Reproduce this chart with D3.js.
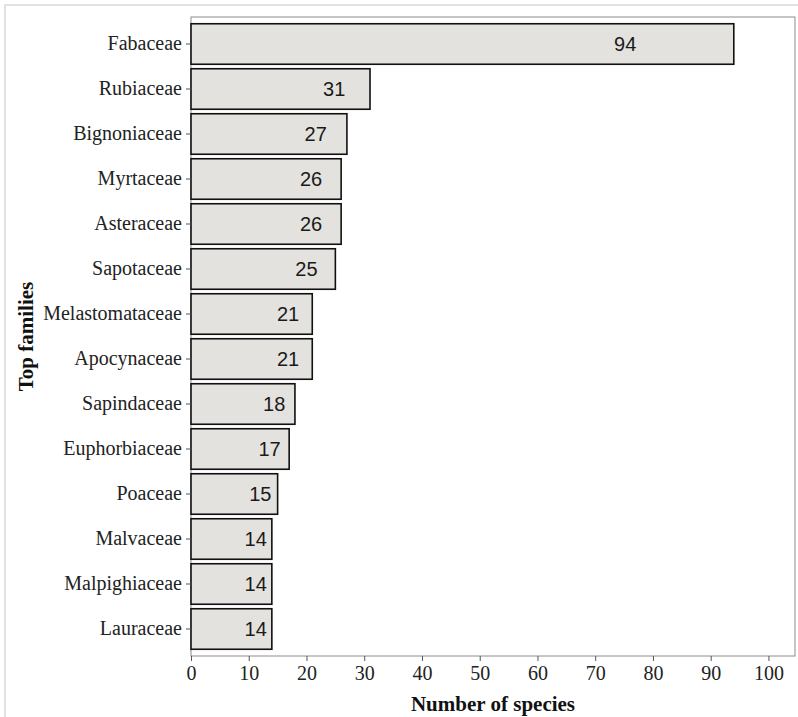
<!DOCTYPE html>
<html>
<head>
<meta charset="utf-8">
<script src="https://cdn.jsdelivr.net/npm/d3@7"></script>
<style>
  body { margin: 0; background: #fff; }
  .tick text { font-family: "Liberation Serif", "Times New Roman", serif; }
</style>
</head>
<body>
<div id="chart"></div>
<script>
// data
const families = ["Fabaceae", "Rubiaceae", "Bignoniaceae", "Myrtaceae", "Asteraceae", "Sapotaceae",
  "Melastomataceae", "Apocynaceae", "Sapindaceae", "Euphorbiaceae", "Poaceae", "Malvaceae",
  "Malpighiaceae", "Lauraceae"];
const species = [94, 31, 27, 26, 26, 25, 21, 21, 18, 17, 15, 14, 14, 14];
const xTicks = [0, 10, 20, 30, 40, 50, 60, 70, 80, 90, 100];

const W = 798, H = 717;
const margin = { top: 17, right: 3, bottom: 61, left: 191 };
const width = W - margin.left - margin.right;
const height = H - margin.top - margin.bottom;

const svg = d3.select("#chart").append("svg")
  .attr("width", W)
  .attr("height", H);

// faint outer frame
svg.append("rect")
  .attr("x", 5).attr("y", 5)
  .attr("width", W).attr("height", H)
  .attr("fill", "none")
  .attr("stroke", "#e2e2de")
  .attr("stroke-width", 2);

const g = svg.append("g")
  .attr("transform", `translate(${margin.left},${margin.top})`);

const data = families.map((f, i) => ({ family: f, n: species[i] }));

const x = d3.scaleLinear().domain([0, 104.6]).range([0, width]);
// ggplot style discrete scale: bar width 0.9, 0.6 expansion from the end band centres
const y = d3.scaleBand().domain(families).range([0, height])
  .paddingInner(0.1).paddingOuter(0.15);

// panel border
g.append("rect")
  .attr("width", width).attr("height", height)
  .attr("fill", "none")
  .attr("stroke", "#8c8c8c")
  .attr("stroke-width", 1);

g.selectAll(".bar").data(data).enter()
  .append("rect")
  .attr("class", "bar")
  .attr("x", x(0))
  .attr("y", d => y(d.family))
  .attr("width", d => x(d.n) - x(0))
  .attr("height", y.bandwidth())
  .attr("fill", "#e3e2de")
  .attr("stroke", "#111")
  .attr("stroke-width", 1.6);

g.selectAll(".lbl").data(data).enter()
  .append("text")
  .attr("class", "lbl")
  .attr("x", d => x(d.n * 0.8))
  .attr("y", d => y(d.family) + y.bandwidth() / 2)
  .attr("dy", "0.36em")
  .attr("text-anchor", "middle")
  .attr("font-family", "'Liberation Sans', Arial, sans-serif")
  .attr("font-size", 20)
  .attr("fill", "#1a1a1a")
  .text(d => d.n);

const xAxis = g.append("g")
  .attr("transform", `translate(0,${height})`)
  .call(d3.axisBottom(x).tickValues(xTicks).tickSize(5).tickPadding(5));
xAxis.select(".domain").remove();
xAxis.selectAll("line").attr("stroke", "#555");
xAxis.selectAll("text").attr("font-size", 20).attr("fill", "#222");

const yAxis = g.append("g")
  .call(d3.axisLeft(y).tickSize(5).tickPadding(4));
yAxis.select(".domain").remove();
yAxis.selectAll("line").attr("stroke", "#555");
yAxis.selectAll("text").attr("font-size", 20).attr("fill", "#222");

svg.append("text")
  .attr("x", margin.left + width / 2)
  .attr("y", 711)
  .attr("text-anchor", "middle")
  .attr("font-family", "'Liberation Serif', 'Times New Roman', serif")
  .attr("font-weight", "bold")
  .attr("font-size", 21)
  .attr("fill", "#111")
  .text("Number of species");

svg.append("text")
  .attr("transform", `translate(33,${margin.top + height / 2}) rotate(-90)`)
  .attr("text-anchor", "middle")
  .attr("font-family", "'Liberation Serif', 'Times New Roman', serif")
  .attr("font-weight", "bold")
  .attr("font-size", 21)
  .attr("fill", "#111")
  .text("Top families");
</script>
</body>
</html>
